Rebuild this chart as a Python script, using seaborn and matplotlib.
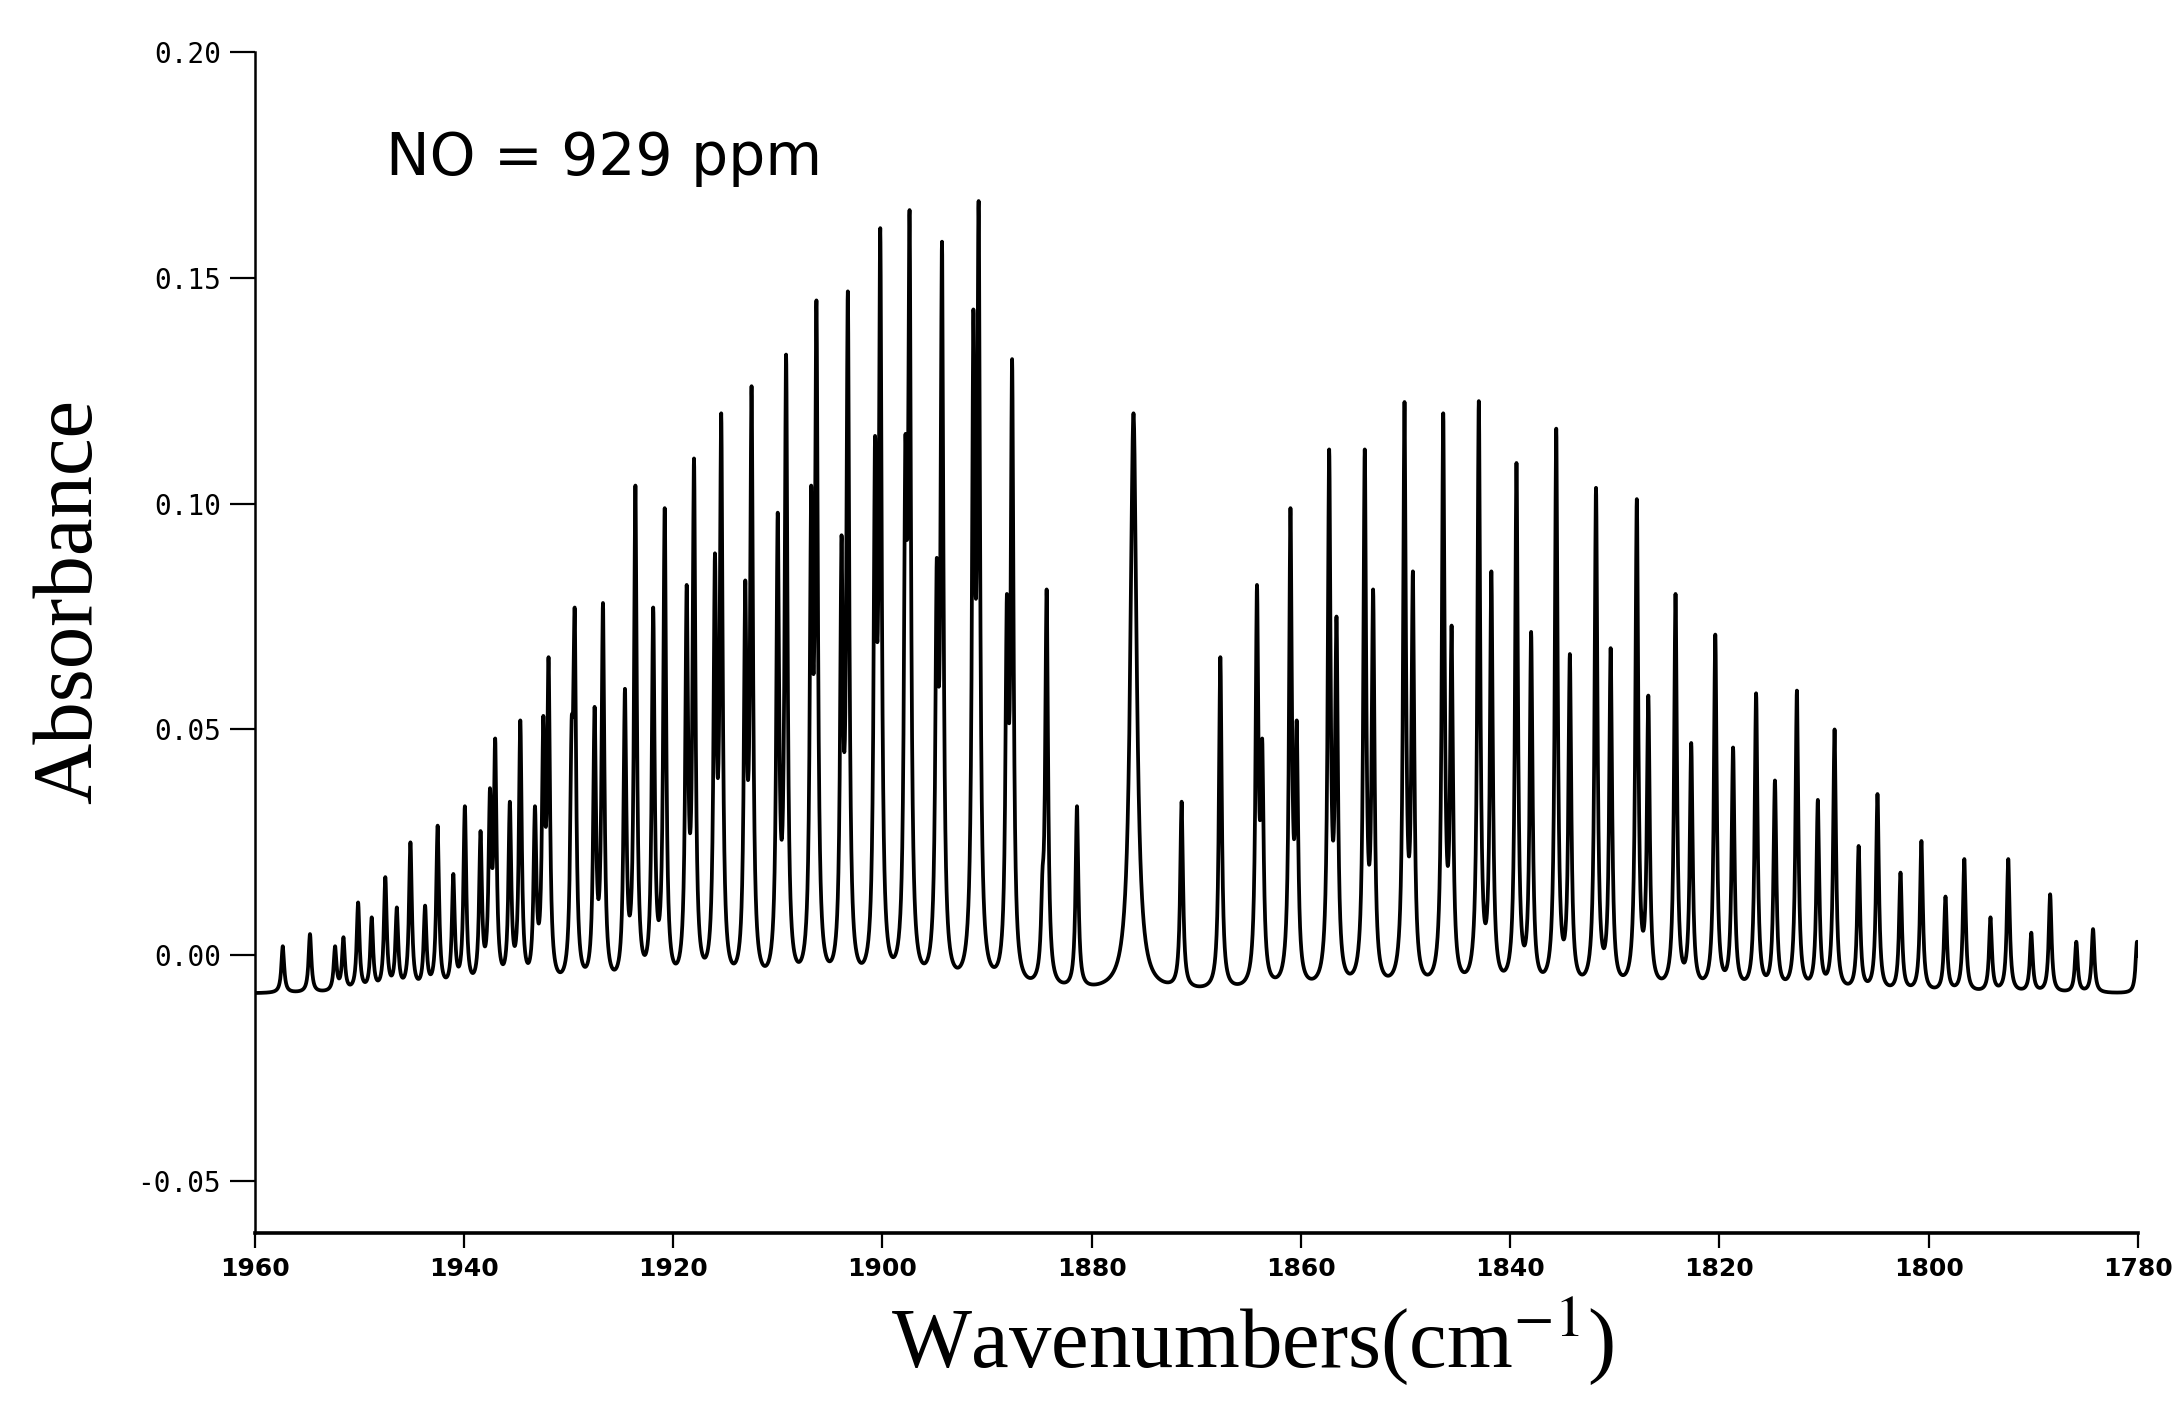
import numpy as np
import pandas as pd
import matplotlib
matplotlib.use("Agg")
import matplotlib.pyplot as plt
import seaborn as sns

# ---- data (wavenumber cm^-1, absorbance at line top) ----
strong_wn = [1957.3, 1954.7, 1951.5, 1950.1, 1947.5, 1945.1, 1942.5, 1939.9, 1937.0,
             1934.6, 1931.9, 1929.4, 1926.7, 1923.6, 1920.8, 1918.0, 1915.4, 1912.5,
             1909.2, 1906.3, 1903.3, 1900.2, 1897.4, 1894.3, 1890.8, 1887.6, 1884.3,
             1881.4, 1871.4, 1867.7, 1864.2, 1861.0, 1857.3, 1853.9, 1850.1, 1846.4,
             1843.0, 1839.4, 1835.6, 1831.8, 1827.9, 1824.2, 1820.4, 1816.5, 1812.6,
             1809.0, 1804.9, 1800.7, 1796.6, 1792.4, 1788.4, 1784.3, 1780.1]
strong_abs = [0.002, 0.0047, 0.004, 0.0117, 0.0173, 0.025, 0.0287, 0.033, 0.048,
              0.052, 0.066, 0.077, 0.078, 0.104, 0.099, 0.110, 0.120, 0.126,
              0.133, 0.145, 0.147, 0.161, 0.165, 0.158, 0.167, 0.132, 0.081,
              0.033, 0.034, 0.066, 0.082, 0.099, 0.112, 0.112, 0.1225, 0.120,
              0.1227, 0.109, 0.1166, 0.1035, 0.101, 0.080, 0.071, 0.058, 0.0586,
              0.050, 0.0357, 0.0253, 0.0213, 0.0213, 0.0135, 0.0058, 0.003]

weak_wn = [1952.3, 1948.8, 1946.4, 1943.7, 1941.0, 1938.4, 1937.5, 1935.6, 1933.2,
           1932.4, 1929.7, 1927.5, 1924.6, 1921.9, 1918.7, 1916.0, 1913.1, 1910.0,
           1906.8, 1903.9, 1900.7, 1897.8, 1894.8, 1891.3, 1888.1, 1884.7,
           1863.7, 1860.4, 1856.6, 1853.1, 1849.3, 1845.6, 1841.8, 1838.0, 1834.3,
           1830.4, 1826.8, 1822.7, 1818.7, 1814.7, 1810.6, 1806.7, 1802.7, 1798.4,
           1794.1, 1790.2, 1785.9]
weak_abs = [0.002, 0.0084, 0.0106, 0.011, 0.018, 0.0275, 0.037, 0.034, 0.033,
            0.053, 0.052, 0.055, 0.059, 0.077, 0.082, 0.089, 0.083, 0.098,
            0.104, 0.093, 0.115, 0.115, 0.088, 0.143, 0.080, 0.019,
            0.048, 0.052, 0.075, 0.081, 0.085, 0.073, 0.085, 0.0716, 0.0667,
            0.068, 0.0575, 0.047, 0.046, 0.0387, 0.0344, 0.0242, 0.0183, 0.013,
            0.0084, 0.005, 0.003]

center_wn = [1876.0]
center_abs = [0.120]

baseline_level = -0.0085

xticks = [1960, 1940, 1920, 1900, 1880, 1860, 1840, 1820, 1800, 1780]
xtick_labels = ["1960", "1940", "1920", "1900", "1880", "1860", "1840", "1820", "1800", "1780"]
yticks = [-0.05, 0.00, 0.05, 0.10, 0.15, 0.20]
ytick_labels = ["-0.05", "0.00", "0.05", "0.10", "0.15", "0.20"]

# ---- build spectrum from the line list (Lorentzian line shape) ----
pos = np.array(strong_wn + weak_wn + center_wn)
top = np.array(strong_abs + weak_abs + center_abs)
hw = np.array([0.16] * (len(strong_wn) + len(weak_wn)) + [0.36])


def lor(x, x0, g):
    return g ** 2 / ((x - x0) ** 2 + g ** 2)


M = lor(pos[:, None], pos[None, :], hw[None, :])
amp = np.linalg.solve(M, top - baseline_level)
amp = np.clip(amp, 0, None)

wn = np.arange(1780.0, 1960.0001, 0.02)
absorb = baseline_level + (amp[None, :] * lor(wn[:, None], pos[None, :], hw[None, :])).sum(axis=1)
df = pd.DataFrame({"Wavenumber": wn, "Absorbance": absorb})

# ---- plot ----
sns.set_theme(style="white")
plt.rcParams["font.family"] = ["DejaVu Sans"]
plt.rcParams["mathtext.fontset"] = "stix"

fig = plt.figure(figsize=(21.81, 14.21), dpi=100)
ax = fig.add_axes([0.1167, 0.1323, 0.8636, 0.8311])

sns.lineplot(data=df, x="Wavenumber", y="Absorbance", color="black", linewidth=2.7,
             estimator=None, sort=False, ax=ax)

ax.set_xlim(1960, 1780)
ax.set_ylim(-0.0615, 0.20)
sns.despine(ax=ax)
ax.spines["left"].set_linewidth(1.8)
ax.spines["bottom"].set_linewidth(2.6)
ax.spines["left"].set_color("black")
ax.spines["bottom"].set_color("black")

ax.set_xticks(xticks)
ax.set_xticklabels(xtick_labels, fontsize=18, fontweight="bold", family="DejaVu Sans")
ax.set_yticks(yticks)
ax.set_yticklabels(ytick_labels, fontsize=20, family="DejaVu Sans Mono")
ax.tick_params(axis="x", direction="out", length=11, width=1.6, pad=6, colors="black", bottom=True)
ax.tick_params(axis="y", direction="out", length=18, width=1.6, pad=6, colors="black", left=True)

ax.set_xlabel("Wavenumbers(cm$^{-1}$)", fontsize=61, family="Liberation Serif", color="black")
ax.xaxis.set_label_coords(0.53, -0.052)
ax.set_ylabel("Absorbance", fontsize=61, family="Liberation Serif", color="black")
ax.yaxis.set_label_coords(-0.077, 0.535)

ax.text(0.07, 0.896, "NO = 929 ppm", transform=ax.transAxes, fontsize=42,
        family="DejaVu Sans", va="baseline", ha="left", color="black")

fig.savefig("out.png", dpi=100, facecolor="white")
